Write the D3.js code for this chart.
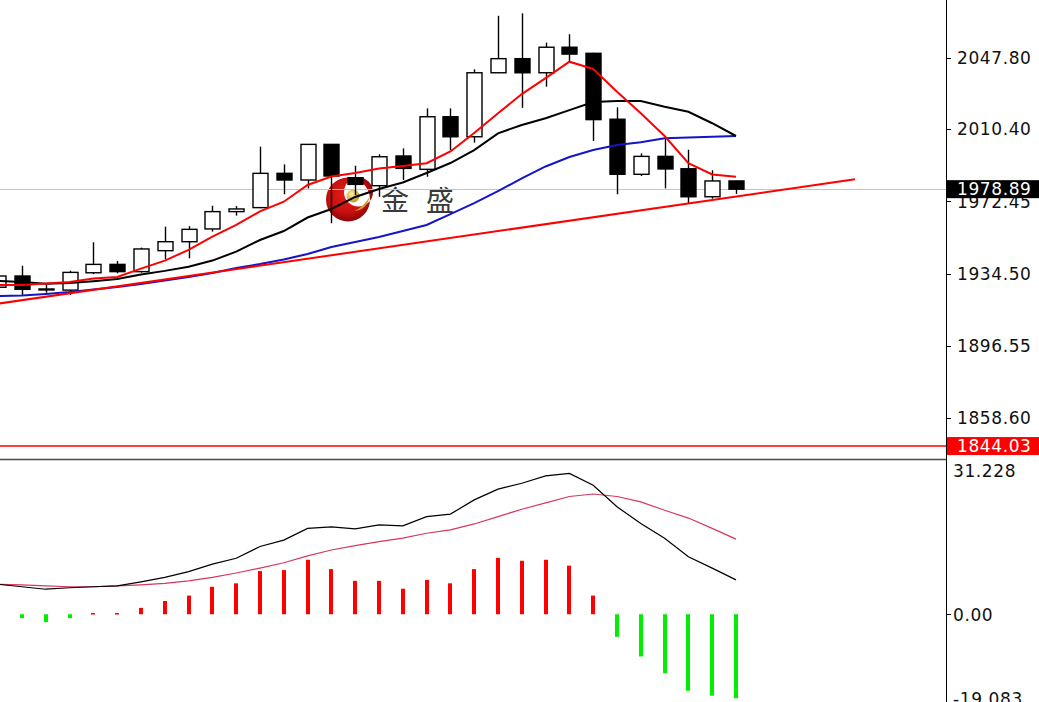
<!DOCTYPE html>
<html><head><meta charset="utf-8">
<script src="https://cdn.jsdelivr.net/npm/d3@7"></script>
<style>html,body{margin:0;padding:0;background:#fff;overflow:hidden}</style>
</head><body><svg id="c" width="1039" height="702"></svg>
<script>
// ---- data ----
const openP  = [1927.4,1933.3,1926.3,1925.9,1935.0,1939.4,1935.6,1946.6,1951.3,1958.0,1967.1,1969.2,1987.2,1983.7,2002.4,1984.9,1980.7,1996.3,1989.3,2016.9,2006.4,2040.0,2047.4,2040.0,2053.4,2050.2,2015.6,1986.7,1996.1,1989.6,1974.9,1983.2];
const highP  = [1934.4,1938.7,1928.6,1936.1,1951.0,1941.2,1948.2,1959.2,1959.5,1970.2,1970.0,2001.2,1991.9,2002.6,2002.6,1991.2,1997.2,2000.3,2021.3,2021.3,2041.8,2069.9,2071.2,2055.8,2060.2,2050.5,2021.9,1997.7,2005.2,1999.6,1988.8,1983.4];
const lowP   = [1926.5,1923.3,1924.5,1923.3,1934.3,1934.7,1935.1,1942.1,1942.6,1956.6,1965.0,1968.9,1976.2,1979.3,1961.0,1975.8,1974.9,1983.7,1985.4,1999.4,2003.3,2039.8,2021.6,2032.7,2045.8,2004.2,1976.2,1985.8,1979.3,1971.5,1973.9,1976.4];
const closeP = [1933.3,1926.3,1926.5,1935.2,1939.4,1935.6,1947.5,1951.3,1957.8,1967.1,1968.5,1987.2,1983.7,2002.4,1985.8,1981.4,1995.9,1989.8,2016.9,2006.4,2040.0,2047.4,2040.0,2053.4,2049.8,2015.4,1986.7,1996.1,1989.5,1974.9,1983.2,1978.89];
const maFast = [1928.6,1928.6,1929.4,1930.1,1932.0,1932.8,1937.2,1941.4,1947.0,1954.0,1960.1,1967.2,1972.3,1981.1,1985.5,1987.4,1989.7,1991.0,1992.5,1998.7,2008.4,2018.7,2028.8,2037.2,2045.8,2042.0,2030.0,2018.7,2006.8,1992.5,1986.6,1985.4];
const maMid  = [1930.7,1930.1,1929.3,1929.6,1930.6,1931.7,1934.1,1936.0,1938.2,1941.4,1946.1,1952.2,1956.9,1964.0,1968.5,1974.8,1979.0,1982.4,1987.4,1992.6,1999.4,2008.2,2012.6,2016.1,2020.4,2024.6,2025.2,2025.2,2022.2,2019.5,2013.5,2006.8];
const maSlow = [1922.8,1923.1,1923.9,1924.9,1926.2,1927.5,1929.1,1930.9,1932.8,1934.9,1937.5,1939.6,1942.0,1944.9,1948.5,1951.2,1953.8,1956.9,1960.1,1965.8,1971.6,1977.9,1984.5,1990.8,1995.8,1999.4,2002.1,2003.5,2005.6,2006.0,2006.4,2006.8];
const trendIdx = [0, 36];
const trendVal = [1918.8, 1984.1];
const currentPrice = 1978.89;
const levelPrice = 1844.03;
const priceTicks = [2047.80, 2010.40, 1972.45, 1934.50, 1896.55, 1858.60];
const macdMain   = [6.1,5.6,5.1,5.4,5.6,5.8,6.6,7.5,8.7,10.2,11.4,13.8,15.1,17.5,17.8,17.4,18.2,18.0,19.9,20.4,23.3,25.5,26.7,28.2,28.7,26.3,21.9,18.5,15.5,11.7,9.4,7.0];
const macdSignal = [6.1,6.0,5.8,5.6,5.6,5.8,6.0,6.3,6.8,7.5,8.4,9.4,10.5,11.9,13.1,14.0,14.8,15.5,16.5,17.2,18.4,19.9,21.4,22.7,24.0,24.5,24.0,22.9,21.2,19.6,17.5,15.3];
const macdHist   = [-0.2,-0.8,-1.6,-0.8,0.25,0.25,1.3,2.7,3.8,5.6,6.3,8.8,9.0,11.1,9.2,6.8,6.8,5.2,7.0,6.3,9.2,11.5,10.9,11.1,9.9,3.8,-4.6,-8.6,-12.0,-15.6,-16.6,-17.1];
const macdTickVals   = [31.228, 0, -19.083];
const macdTickLabels = ["31.228", "0.00", "-19.083"];
const logoText = "金盛";

// ---- layout ----
const svg = d3.select('#c');
const AX = 946, PB = 459, MT = 461, H = 702;
const idx = d3.range(openP.length);
const x = d3.scaleLinear().domain([0, 31]).range([-1.8, 736]);
const y = d3.scaleLinear().domain([1858.6, 2047.8]).range([418.3, 57.9]);
const ym = d3.scaleLinear().domain([-19.083, 31.228]).range([707.9, 461]);
const FONT = "'DejaVu Sans', Verdana, sans-serif";

const defs = svg.append('defs');
defs.append('clipPath').attr('id','cp').append('rect').attr('x',0).attr('y',0).attr('width',AX).attr('height',PB);
defs.append('clipPath').attr('id','cm').append('rect').attr('x',0).attr('y',MT).attr('width',AX).attr('height',H-MT);
const rg = defs.append('radialGradient').attr('id','redg').attr('cx','45%').attr('cy','40%').attr('r','65%');
rg.append('stop').attr('offset','0%').attr('stop-color','#e8201c');
rg.append('stop').attr('offset','60%').attr('stop-color','#c8100e');
rg.append('stop').attr('offset','100%').attr('stop-color','#7e0006');
const gg = defs.append('radialGradient').attr('id','goldg').attr('cx','40%').attr('cy','35%').attr('r','70%');
gg.append('stop').attr('offset','0%').attr('stop-color','#fff2a0');
gg.append('stop').attr('offset','100%').attr('stop-color','#b8901a');

svg.append('rect').attr('width',1039).attr('height',702).attr('fill','#fff');

// ---- price pane ----
const gp = svg.append('g').attr('clip-path','url(#cp)');

// watermark logo
const logo = gp.append('g');
function circ(cx, cy, r){ return `M${cx-r},${cy}a${r},${r} 0 1,0 ${2*r},0a${r},${r} 0 1,0 ${-2*r},0Z`; }
logo.append('path').attr('d', circ(348,199.5,22) + circ(358.5,192,14.5))
  .attr('fill-rule','evenodd').attr('fill','url(#redg)');
logo.append('path').attr('d','M354,211 Q367,210 370,196 Q364,207 354,211Z').attr('fill','#c9a227');
logo.append('circle').attr('cx',353).attr('cy',196).attr('r',6.5).attr('fill','url(#goldg)');
logo.append('text').attr('x',381).attr('y',211).attr('font-family',"'Noto Sans CJK SC', sans-serif")
  .attr('font-size',28).attr('letter-spacing',17).attr('fill','#3a3a3a').text(logoText);

// horizontal lines
gp.append('line').attr('x1',0).attr('x2',AX).attr('y1',Math.round(y(currentPrice))+0.5).attr('y2',Math.round(y(currentPrice))+0.5)
  .attr('stroke','#c4c4c4').attr('stroke-width',1);
gp.append('line').attr('x1',0).attr('x2',AX).attr('y1',y(levelPrice)).attr('y2',y(levelPrice))
  .attr('stroke','#ff0000').attr('stroke-width',1.5);

// candles
const cg = gp.append('g');
cg.selectAll('line.w').data(idx).join('line').attr('class','w')
  .attr('x1',i=>Math.round(x(i))+0.5).attr('x2',i=>Math.round(x(i))+0.5)
  .attr('y1',i=>y(highP[i])).attr('y2',i=>y(lowP[i]))
  .attr('stroke','#000').attr('stroke-width',1.4);
cg.selectAll('rect.b').data(idx).join('rect').attr('class','b')
  .attr('x',i=>Math.round(x(i))-7)
  .attr('width',15)
  .attr('y',i=>y(Math.max(openP[i],closeP[i])))
  .attr('height',i=>Math.max(1, Math.abs(y(openP[i])-y(closeP[i]))))
  .attr('fill',i=>closeP[i]>=openP[i]?'#fff':'#000')
  .attr('stroke','#000').attr('stroke-width',1.4);

// moving averages
const ln = d3.line().x((d,i)=>x(i)).y(d=>y(d));
gp.append('path').attr('d',ln(maSlow)).attr('fill','none').attr('stroke','#1414c8').attr('stroke-width',2);
gp.append('path').attr('d',ln(maMid)).attr('fill','none').attr('stroke','#000').attr('stroke-width',2);
gp.append('path').attr('d',ln(maFast)).attr('fill','none').attr('stroke','#ff0000').attr('stroke-width',2);
// trendline
gp.append('line').attr('x1',x(trendIdx[0])).attr('y1',y(trendVal[0]))
  .attr('x2',x(trendIdx[1])).attr('y2',y(trendVal[1]))
  .attr('stroke','#ff0000').attr('stroke-width',2);

// pane separator
svg.append('line').attr('x1',0).attr('x2',AX).attr('y1',459.5).attr('y2',459.5).attr('stroke','#4a4a4a').attr('stroke-width',1.5);

// ---- MACD pane ----
const gm = svg.append('g').attr('clip-path','url(#cm)');
gm.selectAll('rect.h').data(idx).join('rect').attr('class','h')
  .attr('x',i=>Math.round(x(i))-2)
  .attr('width',4)
  .attr('y',i=>Math.min(ym(0), ym(macdHist[i])))
  .attr('height',i=>Math.max(1.5, Math.abs(ym(macdHist[i])-ym(0))))
  .attr('fill',i=>macdHist[i]>=0?'#ff0000':'#00ee00');
const lm = d3.line().x((d,i)=>x(i)).y(d=>ym(d));
gm.append('path').attr('d',lm(macdSignal)).attr('fill','none').attr('stroke','#d9365e').attr('stroke-width',1.2);
gm.append('path').attr('d',lm(macdMain)).attr('fill','none').attr('stroke','#000').attr('stroke-width',1.2);

// ---- axes ----
svg.append('line').attr('x1',AX+0.5).attr('x2',AX+0.5).attr('y1',0).attr('y2',H).attr('stroke','#000').attr('stroke-width',1);
const pa = svg.append('g');
pa.selectAll('line').data(priceTicks).join('line')
  .attr('x1',AX).attr('x2',AX+5).attr('y1',d=>Math.round(y(d))+0.5).attr('y2',d=>Math.round(y(d))+0.5)
  .attr('stroke','#000');
pa.selectAll('text').data(priceTicks).join('text')
  .attr('x',957).attr('y',d=>y(d)).attr('dy','0.36em')
  .attr('font-family',FONT).attr('font-size',17).attr('letter-spacing',0.6).attr('fill','#111')
  .text(d=>d.toFixed(2));

function priceTag(v, bg){
  const yy = y(v);
  svg.append('rect').attr('x',AX+1).attr('y',yy-9).attr('width',1039-AX-1).attr('height',18).attr('fill',bg);
  svg.append('text').attr('x',957).attr('y',yy).attr('dy','0.36em')
    .attr('font-family',FONT).attr('font-size',17).attr('letter-spacing',0.6).attr('fill','#fff').text(v.toFixed(2));
}
priceTag(currentPrice, '#000');
priceTag(levelPrice, '#ff0000');

const ma = svg.append('g');
ma.append('line').attr('x1',AX).attr('x2',AX+5).attr('y1',Math.round(ym(0))+0.5).attr('y2',Math.round(ym(0))+0.5).attr('stroke','#000');
const macdLabelY = [471, ym(0)+1, 699];
ma.selectAll('text').data(macdTickVals).join('text')
  .attr('x',953).attr('y',(d,i)=>macdLabelY[i]).attr('dy','0.36em')
  .attr('font-family',FONT).attr('font-size',17).attr('letter-spacing',0.6).attr('fill','#111')
  .text((d,i)=>macdTickLabels[i]);
</script></body></html>
